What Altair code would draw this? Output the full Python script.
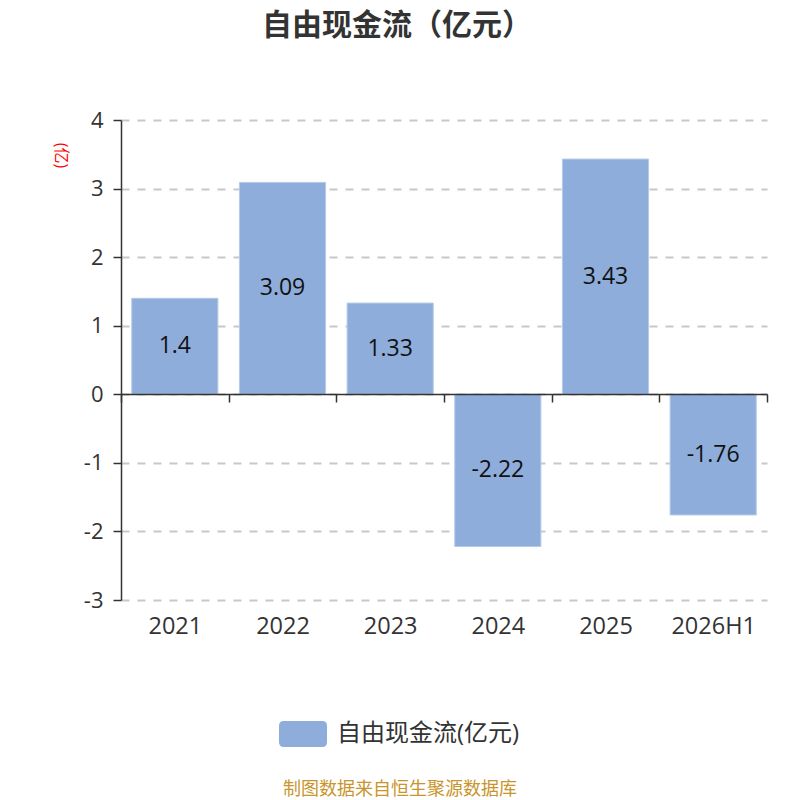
import altair as alt
import pandas as pd

years = ["2021", "2022", "2023", "2024", "2025", "2026H1"]
values = [1.4, 3.09, 1.33, -2.22, 3.43, -1.76]
series_name = "自由现金流(亿元)"
y_ticks = [-3, -2, -1, 0, 1, 2, 3, 4]
title_text = "自由现金流（亿元）"
footer_text = "制图数据来自恒生聚源数据库"

FONT = "Open Sans, Noto Sans CJK SC, sans-serif"
BAR = "#8EADDA"

df = pd.DataFrame({
    "year": years,
    "v": values,
    "label": [str(v) for v in values],
    "series": [series_name] * len(years),
})

x_enc = alt.X(
    "year:N", sort=years,
    scale=alt.Scale(paddingInner=0, paddingOuter=0),
    axis=alt.Axis(
        title=None, offset=-206, tickBand="extent", labelAngle=0,
        domainColor="#333", tickColor="#333", tickSize=8, tickWidth=1.5,
        domainWidth=1.5, labelPadding=212, labelFontSize=23.5,
        labelColor="#333", labelFont=FONT, grid=False, zindex=2,
    ),
)

y_scale = alt.Scale(domain=[-3, 4], nice=False)

bars = alt.Chart(df).mark_bar(
    stroke="#B4CAEA", strokeWidth=1, width=alt.RelativeBandSize(0.8)
).encode(
    x=x_enc,
    y=alt.Y(
        "v:Q", scale=y_scale,
        axis=alt.Axis(
            values=y_ticks, labelExpr="datum.value + ''",
            title="(亿)", titleColor="red", titleFontSize=16,
            titleFontWeight="normal", titleAngle=90, titleX=-61, titleY=35,
            titleAlign="center", titleBaseline="middle", titleFont=FONT,
            domainColor="#333", tickColor="#333", tickSize=8, tickWidth=1.5,
            domainWidth=1.5, labelFontSize=22, labelColor="#333",
            labelFont=FONT, labelPadding=10, gridColor="#C8C8C8",
            gridDash=[8, 8], gridWidth=2,
        ),
    ),
    y2=alt.datum(0),
    color=alt.Color(
        "series:N", scale=alt.Scale(range=[BAR]),
        legend=alt.Legend(
            title=None, orient="none", legendX=158, legendY=590,
            symbolType="M-1,-0.34 Q-1,-0.54 -0.8,-0.54 L0.8,-0.54 Q1,-0.54 1,-0.34 L1,0.34 Q1,0.54 0.8,0.54 L-0.8,0.54 Q-1,0.54 -1,0.34 Z",
            symbolSize=2304, symbolStrokeWidth=0, symbolOpacity=1,
            labelFontSize=24, labelColor="#333", labelFont=FONT,
            labelOffset=10, labelLimit=500, padding=0,
        ),
    ),
)

labels = alt.Chart(df).transform_calculate(mid="datum.v / 2").mark_text(
    fontSize=23, color="#111", font=FONT, baseline="middle"
).encode(
    x=alt.X("year:N", sort=years),
    y=alt.Y("mid:Q", scale=y_scale),
    text="label:N",
)

footer = alt.Chart(pd.DataFrame({"t": [footer_text]})).mark_text(
    fontSize=18, color="#C8952C", font=FONT, baseline="middle", align="center"
).encode(
    x=alt.value(279), y=alt.value(670), text="t:N"
)

chart = alt.layer(bars, labels, footer).properties(
    width=646, height=480,
    autosize=alt.AutoSizeParams(type="none"),
    padding={"left": 113, "top": 112, "right": 25, "bottom": 200},
    title=alt.TitleParams(
        title_text, fontSize=30, fontWeight="bold", color="#333",
        font="Noto Sans CJK SC", anchor="middle", dx=-47, offset=68,
    ),
).configure_view(stroke=None)

chart.save("out.html", embed_options={"renderer": "svg", "actions": False})
